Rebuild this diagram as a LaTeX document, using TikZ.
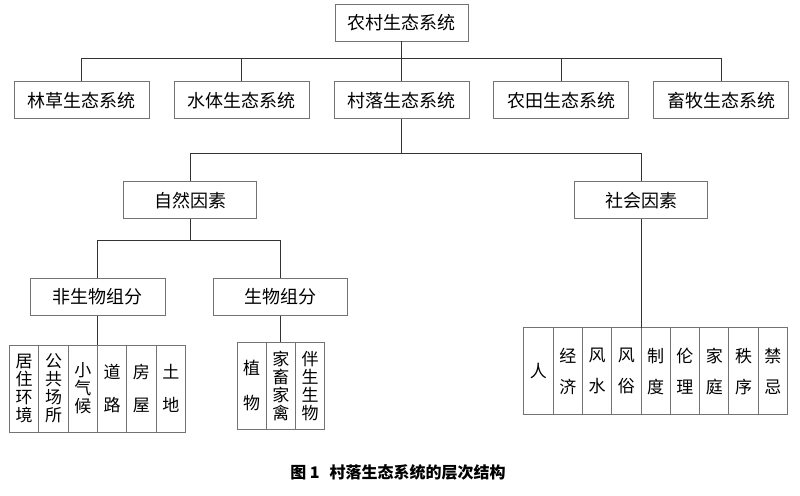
\documentclass[tikz,border=0pt]{standalone}
\usepackage{fontspec}
\setmainfont{Noto Sans CJK SC}
\usetikzlibrary{positioning}

\begin{document}
\begin{tikzpicture}[
  x=1pt, y=1pt,
  node distance=24pt,
  squarednode/.style={rectangle, draw=black!55, fill=white, line width=0.9pt, minimum width=135pt, minimum height=37pt, inner sep=0pt, font=\fontsize{18}{20}\selectfont},
  cellnode/.style={rectangle, draw=black!55, fill=white, line width=0.9pt, minimum width=29.3pt, minimum height=87pt, inner sep=0pt, outer sep=0pt, align=center, font=\fontsize{17}{18}\selectfont},
  widecell/.style={cellnode, font=\fontsize{17}{#1}\selectfont},
  widecell/.default=33pt,
  link/.style={draw=black!80, line width=0.9pt}  % connectors between boxes
]
  \useasboundingbox (0,0) rectangle (800,-495);

  \node[squarednode, minimum width=133pt] (R) at (401.5,-22.5) {农村生态系统};
  \node[squarednode] (S3) [below=40pt of R] {村落生态系统};
  \node[squarednode] (S2) [left=of S3]  {水体生态系统};
  \node[squarednode] (S1) [left=of S2]  {林草生态系统};
  \node[squarednode] (S4) [right=of S3] {农田生态系统};
  \node[squarednode] (S5) [right=of S4] {畜牧生态系统};

  \node[squarednode, minimum width=133pt] (F1) [below=62pt of S3, xshift=-211.5pt] {自然因素};
  \node[squarednode, minimum width=133pt] (F2) [below=62pt of S3, xshift=239.5pt]  {社会因素};

  \node[squarednode] (G1) [below=58.5pt of F1, xshift=-92.5pt] {非生物组分};
  \node[squarednode, minimum width=134pt] (G2) [right=48pt of G1] {生物组分};

  % non-living parts
  \node[cellnode] (A3) [below=29.5pt of G1, xshift=-14.65pt] {小\\气\\候};
  \node[cellnode] (A2) [left=0pt of A3]  {公\\共\\场\\所};
  \node[cellnode] (A1) [left=0pt of A2]  {居\\住\\环\\境};
  \node[widecell] (A4) [right=0pt of A3] {道\\路};
  \node[widecell] (A5) [right=0pt of A4] {房\\屋};
  \node[widecell] (A6) [right=0pt of A5] {土\\地};

  % living parts
  \node[cellnode] (B2) [below=26.5pt of G2]  {家\\畜\\家\\禽};
  \node[widecell=35pt] (B1) [left=0pt of B2]  {植\\物};
  \node[cellnode] (B3) [right=0pt of B2] {伴\\生\\生\\物};

  % social factors
  \node[widecell=31pt] (C4) [below=108.5pt of F2, xshift=-14.65pt] {风\\俗};
  \node[widecell=31pt] (C3) [left=0pt of C4]  {风\\水};
  \node[widecell=31pt] (C2) [left=0pt of C3]  {经\\济};
  \node[cellnode]      (C1) [left=0pt of C2]  {人};
  \node[widecell=31pt] (C5) [right=0pt of C4] {制\\度};
  \node[widecell=31pt] (C6) [right=0pt of C5] {伦\\理};
  \node[widecell=31pt] (C7) [right=0pt of C6] {家\\庭};
  \node[widecell=31pt] (C8) [right=0pt of C7] {秩\\序};
  \node[widecell=31pt] (C9) [right=0pt of C8] {禁\\忌};

  \node[font=\fontsize{16}{18}\selectfont\bfseries] (T) at (398,-472) {图 1\hspace{0.4em} 村落生态系统的层次结构};

  \coordinate[below=17pt of R] (B1bus);
  \coordinate[below=34.5pt of S3] (B2bus);
  \coordinate[below=21.5pt of F1] (B3bus);

  \draw[link] (R) -- (S3);
  \draw[link] (S1.north) |- (B1bus) -| (S5.north);
  \draw[link] (S2.north) |- (B1bus);
  \draw[link] (S4.north) |- (B1bus);

  \draw[link] (S3) -- (B2bus);
  \draw[link] (F1.north) |- (B2bus) -| (F2.north);

  \draw[link] (F1) -- (B3bus);
  \draw[link] (G1.north) |- (B3bus) -| (G2.north);

  \draw[link] (G1) -- (A3.north east);
  \draw[link] (G2) -- (B2);
  \draw[link] (F2) -- (C4.north east);

\end{tikzpicture}
\end{document}
